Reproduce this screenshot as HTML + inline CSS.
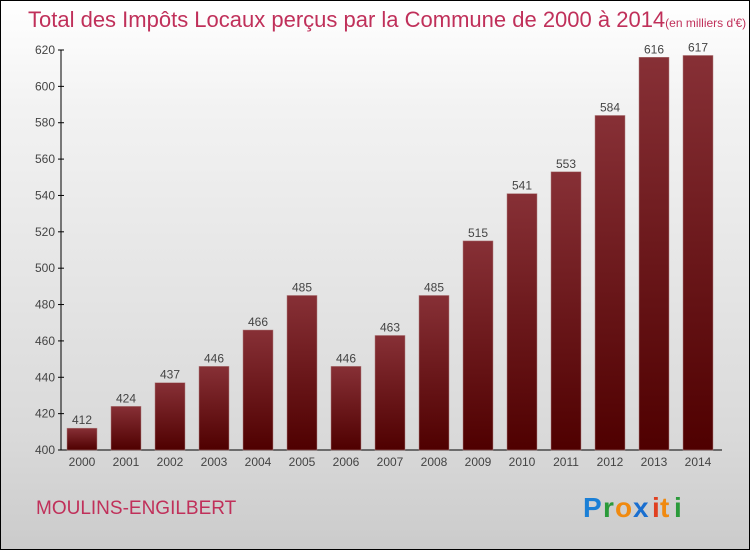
<!DOCTYPE html>
<html><head><meta charset="utf-8"><style>
body{margin:0}
#c{width:748px;height:548px;border:1px solid #000;background:linear-gradient(#fff,#f2f2f2 20%,#d9d9d9 80%,#cbcbcb);position:relative;font-family:"Liberation Sans",sans-serif}
</style></head><body>
<div id="c">
<svg width="748" height="548" viewBox="1 1 748 548" style="position:absolute;left:0;top:0" id="svg">
<defs><linearGradient id="g" x1="0" y1="0" x2="0" y2="1"><stop offset="0" stop-color="#873036"/><stop offset="1" stop-color="#4f0000"/></linearGradient></defs>
<text x="28" y="27" font-size="22" fill="#c0305a">Total des Impôts Locaux perçus par la Commune de 2000 à 2014<tspan font-size="12">(en milliers d'€)</tspan></text>
<g id="axes"></g><g id="bars"></g>
<text x="36" y="514" font-size="19" fill="#c0305a">MOULINS-ENGILBERT</text>
<g font-size="28" font-weight="bold">
<text x="583" y="517" fill="#1a7fd6">P</text><text x="603" y="517" fill="#2a9a3a">r</text><text x="615" y="517" fill="#f08a10">o</text><text x="633" y="517" fill="#1a6fd0">x</text><text x="652" y="517" fill="#e04020">i</text><text x="660" y="517" fill="#f08a10">t</text><text x="674" y="517" fill="#2a9a3a">i</text>
</g>
</svg>
</div>
<script>
const years=["2000","2001","2002","2003","2004","2005","2006","2007","2008","2009","2010","2011","2012","2013","2014"];
const values=[412,424,437,446,466,485,446,463,485,515,541,553,584,616,617];
const ticks=[400,420,440,460,480,500,520,540,560,580,600,620];
const NS="http://www.w3.org/2000/svg";
const y0=450,y1=50,vmin=400,vmax=620;
function y(v){return y0-(v-vmin)/(vmax-vmin)*(y0-y1);}
function x(i){return 82+i*44;}
function mk(t,a,p){const e=document.createElementNS(NS,t);for(const k in a)e.setAttribute(k,a[k]);p.appendChild(e);return e;}
const ax=document.getElementById('axes'),bg=document.getElementById('bars');
const yl=mk('line',{x1:61,x2:61,y1:y1,y2:y0,stroke:'#000'},ax);


const xl=mk('line',{x1:61,x2:722,y1:y0,y2:y0,stroke:'#000'},ax);


ticks.forEach(t=>{
 mk('line',{x1:58,x2:64,y1:y(t),y2:y(t),stroke:'#000'},ax);
 const tx=mk('text',{x:55,y:y(t)+4,'font-size':12,fill:'#444','text-anchor':'end'},ax);tx.textContent=t;
 
 
});
years.forEach((yr,i)=>{
 const v=values[i];
 const r=mk('rect',{x:x(i)-15,y:y(v),width:30,height:y0-y(v),fill:'url(#g)',stroke:'#b08080','stroke-width':0.5},bg);
 
 
 const l=mk('text',{x:x(i),y:y(v)-4,'font-size':12,fill:'#444','text-anchor':'middle'},bg);l.textContent=v;
 
 
 const xt=mk('text',{x:x(i),y:466,'font-size':12,fill:'#444','text-anchor':'middle'},bg);xt.textContent=yr;
 
 
});
</script>
</body></html>
